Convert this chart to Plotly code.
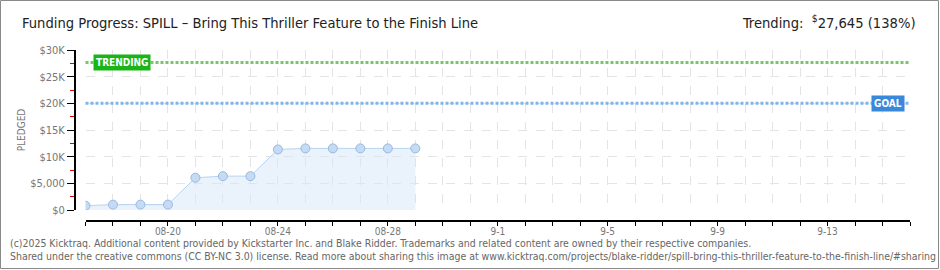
import plotly.graph_objects as go

# ---- data ----
dates = ["2025-08-17", "2025-08-18", "2025-08-19", "2025-08-20", "2025-08-21",
         "2025-08-22", "2025-08-23", "2025-08-24", "2025-08-25", "2025-08-26",
         "2025-08-27", "2025-08-28", "2025-08-29"]
pledged = [800, 1010, 1010, 1010, 6050, 6350, 6350, 11350, 11550, 11550, 11550, 11550, 11550]
goal = 20000
trending = 27645
x_range = ["2025-08-17", "2025-09-16"]
xtick_vals = ["2025-08-20", "2025-08-24", "2025-08-28", "2025-09-01",
              "2025-09-05", "2025-09-09", "2025-09-13"]
xtick_text = ["08-20", "08-24", "08-28", "9-1", "9-5", "9-9", "9-13"]
ytick_vals = [0, 5000, 10000, 15000, 20000, 25000, 30000]
ytick_text = ["$0", "$5,000", "$10K", "$15K", "$20K", "$25K", "$30K"]
yminor_vals = [2500, 7500, 12500, 17500, 22500, 27500]

title = "Funding Progress: SPILL – Bring This Thriller Feature to the Finish Line"
footer1 = "(c)2025 Kicktraq. Additional content provided by Kickstarter Inc. and Blake Ridder. Trademarks and related content are owned by their respective companies."
footer2 = "Shared under the creative commons (CC BY-NC 3.0) license. Read more about sharing this image at www.kicktraq.com/projects/blake-ridder/spill-bring-this-thriller-feature-to-the-finish-line/#sharing"

W, H = 940, 270
ML, MR, MT, MB = 75, 30, 50, 49
plot_w = W - ML - MR
plot_h = H - MT - MB

TITLE_FONT = "DejaVu Sans Condensed, Liberation Sans Narrow, sans-serif"
TICK_FONT = "DejaVu Sans Condensed, DejaVu Sans, sans-serif"

fig = go.Figure()

fig.add_trace(go.Scatter(
    x=dates, y=pledged, mode="lines+markers",
    line=dict(color="#b7d3f1", width=1),
    fill="tozeroy", fillcolor="rgba(214,230,250,0.5)",
    marker=dict(size=9, color="#c4dbf5", line=dict(color="#9ab8dc", width=1)),
    hoverinfo="skip", showlegend=False,
))

# goal & trending lines
fig.add_shape(type="line", xref="x domain", yref="y", x0=0, x1=1, y0=trending, y1=trending,
              line=dict(color="#79c66a", width=3, dash="3px,2px"), layer="above")
fig.add_shape(type="line", xref="x domain", yref="y", x0=0, x1=1, y0=goal, y1=goal,
              line=dict(color="#82b4e8", width=3, dash="3px,2px"), layer="above")

fig.add_annotation(xref="x domain", yref="y", x=0.0095, y=trending, xanchor="left", yanchor="middle",
                   text="<b>TRENDING</b>", showarrow=False,
                   font=dict(family=TICK_FONT, size=10, color="white"),
                   bgcolor="#17b517", borderpad=2)
fig.add_annotation(xref="x domain", yref="y", x=0.994, y=goal, xanchor="right", yanchor="middle",
                   text="<b>GOAL</b>", showarrow=False,
                   font=dict(family=TICK_FONT, size=10, color="white"),
                   bgcolor="#3a88d9", borderpad=2)

# header texts
fig.add_annotation(xref="paper", yref="paper", x=(20 - ML) / plot_w, y=1 + (MT - 22) / plot_h,
                   xanchor="left", yanchor="middle", text=title, showarrow=False,
                   font=dict(family=TITLE_FONT, size=14.6, color="#222"))
fig.add_annotation(xref="paper", yref="paper", x=(918 - ML) / plot_w, y=1 + (MT - 22) / plot_h,
                   xanchor="right", yanchor="middle",
                   text="Trending:  <sup>$</sup>27,645 (138%)", showarrow=False,
                   font=dict(family=TITLE_FONT, size=14.6, color="#222"))
# footer
for i, t in enumerate([footer1, footer2]):
    yy = 243 + 13 * i
    fig.add_annotation(xref="paper", yref="paper", x=(8 - ML) / plot_w, y=-(yy - (MT + plot_h)) / plot_h,
                       xanchor="left", yanchor="middle", text=t, showarrow=False,
                       font=dict(family=TITLE_FONT, size=10.45, color="#666"))

# outer border
fig.add_shape(type="rect", xref="paper", yref="paper",
              x0=(0.5 - ML) / plot_w, x1=(W - 1.5 - ML) / plot_w,
              y0=-(H - 1.5 - MT - plot_h) / plot_h, y1=1 + (MT - 0.5) / plot_h,
              line=dict(color="#8a8a8a", width=1))

fig.update_layout(
    width=W, height=H,
    margin=dict(l=ML, r=MR, t=MT, b=MB),
    paper_bgcolor="white", plot_bgcolor="white",
    xaxis=dict(
        type="date", range=x_range, domain=[(85.5 - ML) / plot_w, 1],
        anchor="free", position=0,
        tickmode="array", tickvals=xtick_vals, ticktext=xtick_text,
        ticks="outside", ticklen=4, tickwidth=1, tickcolor="black",
        ticklabelstandoff=-3,
        showline=True, linecolor="black", linewidth=2,
        showgrid=True, gridcolor="#e4e4e4", griddash="dash", gridwidth=1,
        minor=dict(dtick=86400000, tick0="2025-08-17", ticks="outside", ticklen=4,
                   tickcolor="black", showgrid=True, gridcolor="#e4e4e4", griddash="dash"),
        tickfont=dict(family=TICK_FONT, size=10, color="#777"),
        zeroline=False, fixedrange=True,
    ),
    yaxis=dict(
        range=[0, 30000], domain=[11 / plot_h, 1],
        anchor="free", position=0,
        tickmode="array", tickvals=ytick_vals, ticktext=ytick_text,
        ticks="outside", ticklen=7, tickwidth=1, tickcolor="black",
        showline=True, linecolor="black", linewidth=2,
        showgrid=True, gridcolor="#e4e4e4", griddash="dash",
        minor=dict(tickmode="array", tickvals=yminor_vals, ticks="outside",
                   ticklen=4, tickwidth=1, tickcolor="#e00000", showgrid=False),
        tickfont=dict(family=TICK_FONT, size=11, color="#777"),
        title=dict(text="PLEDGED", font=dict(family=TICK_FONT, size=10, color="#777"), standoff=2),
        zeroline=False, fixedrange=True,
    ),
)

fig.write_html("out.html")
